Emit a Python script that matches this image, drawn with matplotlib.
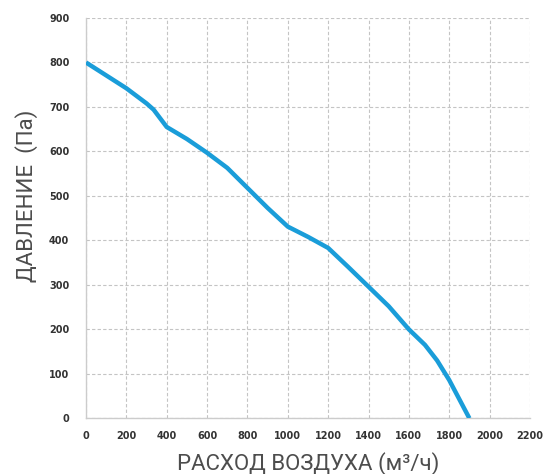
import matplotlib.pyplot as plt

# fan curve: air flow (m3/h) vs pressure (Pa)
flow = [0, 100, 200, 300, 335, 400, 500, 600, 700, 800, 900, 1000, 1100,
        1200, 1300, 1400, 1500, 1600, 1680, 1740, 1800, 1900]
pressure = [800, 771, 742, 708, 694, 655, 628, 597, 563, 518, 473, 431, 408,
            383, 340, 296, 252, 200, 165, 130, 86, 0]
x_ticks = list(range(0, 2201, 200))
y_ticks = list(range(0, 901, 100))

fig = plt.figure(figsize=(5.57, 4.74), dpi=100)
ax = fig.add_axes((0.1544, 0.1175, 0.797, 0.8445))

ax.plot(flow, pressure, color='#1a9dd9', linewidth=3.2, solid_capstyle='butt',
        solid_joinstyle='round', zorder=3)

ax.set_xlim(0, 2200)
ax.set_ylim(0, 900)
ax.set_xticks(x_ticks)
ax.set_yticks(y_ticks)
ax.tick_params(length=0, labelsize=7, labelcolor='#333333')
ax.tick_params(axis='x', pad=9)
ax.tick_params(axis='y', pad=12)
for lbl in ax.get_xticklabels() + ax.get_yticklabels():
    lbl.set_fontweight('bold')

ax.grid(True, color='#c4c4c4', linestyle=(0, (3, 2)), linewidth=0.8)
for side in ('top', 'right'):
    ax.spines[side].set_visible(False)
for side in ('left', 'bottom'):
    ax.spines[side].set_color('#cccccc')
    ax.spines[side].set_linewidth(1.0)

ax.set_xlabel('РАСХОД ВОЗДУХА (м³/ч)', fontsize=16, color='#4d4d4d',
              family=['Roboto', 'DejaVu Sans'])
ax.set_ylabel('ДАВЛЕНИЕ  (Па)', fontsize=16, color='#4d4d4d',
              family=['Roboto', 'DejaVu Sans'])
ax.xaxis.set_label_coords(0.5, -0.085)
ax.yaxis.set_label_coords(-0.108, 0.555)

fig.savefig('out.png', dpi=100, facecolor='white')
